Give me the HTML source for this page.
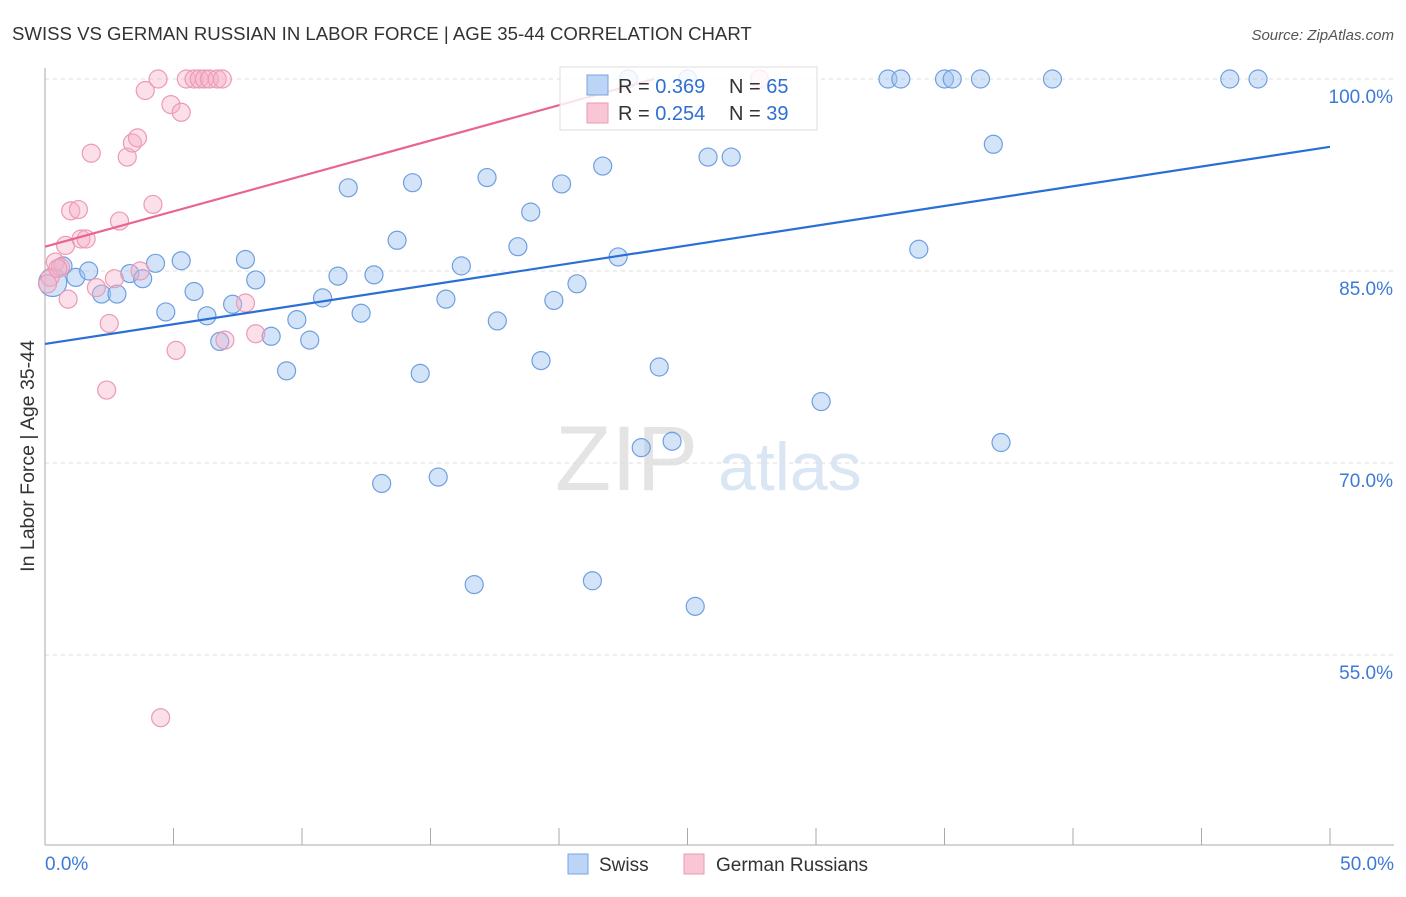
<!DOCTYPE html>
<html><head><meta charset="utf-8"><style>
body{margin:0;background:#fff;font-family:"Liberation Sans",sans-serif;}
svg text{font-family:"Liberation Sans",sans-serif;}
</style></head><body>
<svg id="c" width="1406" height="892">
<text x="12" y="40" font-size="18.6" fill="#333">SWISS VS GERMAN RUSSIAN IN LABOR FORCE | AGE 35-44 CORRELATION CHART</text>
<text x="1394" y="40" font-size="15" fill="#555" font-style="italic" text-anchor="end">Source: ZipAtlas.com</text>
<text x="34" y="456" font-size="19.5" fill="#333" text-anchor="middle" transform="rotate(-90 34 456)">In Labor Force | Age 35-44</text>
<text x="555" y="490" font-size="92" fill="#e4e4e4" font-family="Liberation Serif">ZIP</text>
<text x="718" y="490" font-size="68" fill="#dbe6f5">atlas</text>
<g id="grid"></g><g id="marks"></g><g id="trend"></g>
<g>
<rect x="560" y="67" width="257" height="63" fill="#fff" fill-opacity="0.82" stroke="#ddd"/>
<rect x="587" y="75" width="21" height="20" fill="#bcd4f5" stroke="#7aa3e0"/>
<rect x="587" y="103" width="21" height="20" fill="#f9c6d6" stroke="#eb9ab3"/>
<text x="618" y="93" font-size="20" fill="#333">R = <tspan fill="#2f6fd0">0.369</tspan></text>
<text x="729" y="93" font-size="20" fill="#333">N = <tspan fill="#2f6fd0">65</tspan></text>
<text x="618" y="120" font-size="20" fill="#333">R = <tspan fill="#2f6fd0">0.254</tspan></text>
<text x="729" y="120" font-size="20" fill="#333">N = <tspan fill="#2f6fd0">39</tspan></text>
</g>
<g>
<rect x="568" y="854" width="20" height="20" fill="#bcd4f5" stroke="#7aa3e0"/>
<text x="599" y="871" font-size="19" fill="#333">Swiss</text>
<rect x="684" y="854" width="20" height="20" fill="#f9c6d6" stroke="#eb9ab3"/>
<text x="716" y="871" font-size="19" fill="#333">German Russians</text>
</g>
</svg>
<script>
const xTicks=[0,5,10,15,20,25,30,35,40,45,50];
const yTicks=[100,85,70,55];
const yTickLabels=["100.0%","85.0%","70.0%","55.0%"];
const swissX=[0.3,0.7,1.2,1.7,2.2,2.8,3.3,3.8,4.3,4.7,5.3,5.8,6.3,6.8,7.3,7.8,8.2,8.8,9.4,9.8,10.3,10.8,11.4,11.8,12.3,12.8,13.1,13.7,14.3,14.6,15.3,15.6,16.2,16.7,17.2,17.6,18.4,18.9,19.3,19.8,20.1,20.7,21.3,21.7,22.3,22.7,23.2,23.9,24.4,25.0,25.3,25.8,26.7,30.2,32.8,33.3,34.0,35.0,35.3,36.4,36.9,37.2,39.2,46.1,47.2];
const swissY=[84.1,85.4,84.5,85.0,83.2,83.2,84.8,84.4,85.6,81.8,85.8,83.4,81.5,79.5,82.4,85.9,84.3,79.9,77.2,81.2,79.6,82.9,84.6,91.5,81.7,84.7,68.4,87.4,91.9,77.0,68.9,82.8,85.4,60.5,92.3,81.1,86.9,89.6,78.0,82.7,91.8,84.0,60.8,93.2,86.1,100,71.2,77.5,71.7,100,58.8,93.9,93.9,74.8,100,100,86.7,100,100,100,94.9,71.6,100,100,100];
const swissR=[14,9,9,9,9,9,9,9,9,9,9,9,9,9,9,9,9,9,9,9,9,9,9,9,9,9,9,9,9,9,9,9,9,9,9,9,9,9,9,9,9,9,9,9,9,9,9,9,9,9,9,9,9,9,9,9,9,9,9,9,9,9,9,9,9];
const grX=[0.2,0.4,0.6,0.8,0.9,1.0,1.3,1.4,1.6,1.8,2.0,2.4,2.5,2.7,2.9,3.2,3.4,3.6,3.7,3.9,4.2,4.4,4.5,4.9,5.1,5.3,5.5,5.8,6.0,6.2,6.4,6.7,6.9,7.0,7.8,8.2,27.8,0.1,0.5];
const grY=[84.5,85.7,85.3,87.0,82.8,89.7,89.8,87.5,87.5,94.2,83.7,75.7,80.9,84.4,88.9,93.9,95.0,95.4,85.0,99.1,90.2,100,50.1,98.0,78.8,97.4,100,100,100,100,100,100,100,79.6,82.5,80.1,100,84.0,85.2];
const trendBlue=[0,79.3,50,94.7];
const trendPink=[0,86.9,23.7,100];
const X=v=>45+v/50*1285, Y=v=>79+(100-v)/15*192;
const NS="http://www.w3.org/2000/svg";
function mk(t,a,p){const e=document.createElementNS(NS,t);for(const k in a)e.setAttribute(k,a[k]);p.appendChild(e);return e;}
const grid=document.getElementById('grid'),marks=document.getElementById('marks'),tr=document.getElementById('trend');
yTicks.forEach((t,i)=>{
 const l=mk('line',{x1:45,x2:1394,y1:Y(t),y2:Y(t),stroke:'#ddd','stroke-dasharray':'4 4'},grid);
 
 
 const tx=mk('text',{x:1393,y:Y(t)+24,'font-size':19,fill:'#3d7ad6','text-anchor':'end'},grid);tx.textContent=yTickLabels[i];
 
 
});
const ax=mk('line',{x1:45,x2:45,y1:68,y2:845,stroke:'#aaa'},grid);


const bx=mk('line',{x1:45,x2:1394,y1:845,y2:845,stroke:'#aaa'},grid);


xTicks.forEach(t=>{const l=mk('line',{x1:X(t),x2:X(t),y1:828,y2:845,stroke:'#aaa'},grid);
 
 });
[[0,"0.0%","start",45],[50,"50.0%","end",1394]].forEach(a=>{const t=mk('text',{x:a[3],y:870,'font-size':19,fill:'#3d7ad6','text-anchor':a[2]},grid);t.textContent=a[1];
 
 });
swissX.forEach((v,i)=>{const c=mk('circle',{cx:X(v),cy:Y(swissY[i]),r:swissR[i],fill:'rgba(160,195,240,0.45)',stroke:'#6f9fe0','stroke-width':1.2},marks);
 
 });
grX.forEach((v,i)=>{const c=mk('circle',{cx:X(v),cy:Y(grY[i]),r:9,fill:'rgba(245,175,200,0.4)',stroke:'#ec9ab5','stroke-width':1.2},marks);
 
 });
const lb=mk('line',{x1:X(trendBlue[0]),y1:Y(trendBlue[1]),x2:X(trendBlue[2]),y2:Y(trendBlue[3]),stroke:'#2a6fd6','stroke-width':2.2},tr);


const lp=mk('line',{x1:X(trendPink[0]),y1:Y(trendPink[1]),x2:X(trendPink[2]),y2:Y(trendPink[3]),stroke:'#e8658f','stroke-width':2.2},tr);


</script>
</body></html>
